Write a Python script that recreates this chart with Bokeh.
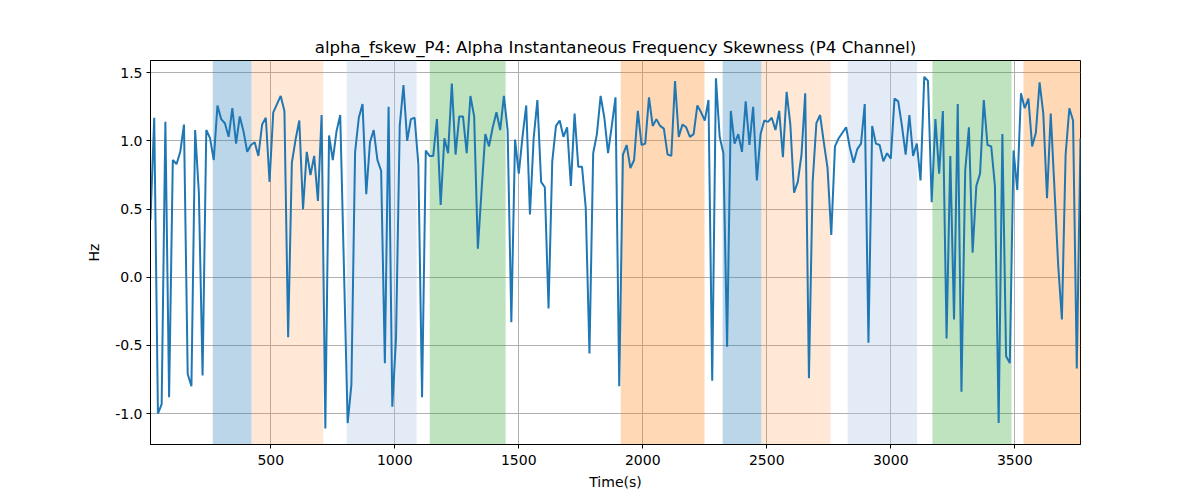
from bokeh.plotting import figure
from bokeh.models import BoxAnnotation, FixedTicker, PrintfTickFormatter, Range1d
from bokeh.embed import file_html
from bokeh.resources import INLINE

# signal: one sample every 15 s
t_start = 15
t_step = 15
fskew = [0.42, 1.17, -1.00, -0.93, 1.14, -0.88, 0.86, 0.83, 0.92, 1.12,
         -0.71, -0.80, 1.08, 0.62, -0.72, 1.08, 1.02, 0.86, 1.26, 1.16,
         1.13, 1.03, 1.24, 0.98, 1.18, 1.07, 0.92, 0.97, 0.99, 0.89,
         1.12, 1.17, 0.70, 1.21, 1.27, 1.33, 1.22, -0.44, 0.84, 1.01,
         1.15, 0.50, 0.92, 0.75, 0.89, 0.56, 1.19, -1.11, 1.04, 0.86,
         1.07, 1.19, 0.07, -1.07, -0.79, 0.92, 1.17, 1.27, 0.61, 0.99,
         1.08, 0.86, 0.78, -0.63, 1.25, -0.95, -0.45, 1.11, 1.41, 1.00,
         1.16, 1.17, 0.83, -0.88, 0.93, 0.89, 0.89, 1.16, 0.53, 1.02,
         0.91, 1.42, 0.90, 1.18, 1.18, 0.91, 1.33, 1.18, 0.21, 0.64,
         1.05, 0.96, 1.10, 1.21, 1.08, 1.33, 1.08, -0.33, 1.01, 0.76,
         1.03, 1.26, 0.46, 1.02, 1.30, 0.70, 0.66, -0.23, 0.85, 1.11,
         1.15, 1.03, 1.10, 0.67, 1.20, 0.81, 0.81, 0.51, -0.56, 0.91,
         1.05, 1.33, 1.17, 0.91, 1.11, 1.32, -0.80, 0.90, 0.97, 0.80,
         0.86, 1.22, 0.97, 0.98, 1.32, 1.11, 1.16, 1.11, 1.09, 0.90,
         0.89, 1.44, 1.03, 1.12, 1.10, 1.03, 1.05, 1.26, 1.21, 1.15,
         1.30, -0.76, 1.46, 1.03, 0.91, -0.51, 1.22, 0.98, 1.05, 0.92,
         1.29, 0.97, 1.25, 0.71, 1.05, 1.15, 1.14, 1.17, 1.08, 1.22,
         0.88, 1.36, 1.12, 0.62, 0.70, 0.90, 1.35, -0.74, 0.70, 1.13,
         1.19, 0.99, 0.80, 0.31, 0.96, 1.02, 1.06, 1.10, 0.95, 0.84,
         0.94, 0.98, 1.27, -0.48, 1.11, 0.98, 0.97, 0.85, 0.91, 0.87,
         1.31, 1.29, 1.11, 0.90, 1.19, 0.89, 0.98, 0.71, 1.47, 1.44,
         0.55, 1.16, 0.76, 1.22, -0.45, 0.89, -0.31, 1.27, -0.84, 0.78,
         1.10, 0.18, 0.67, 0.76, 1.30, 0.97, 0.96, 0.67, -1.07, 1.05,
         -0.58, -0.63, 0.93, 0.64, 1.35, 1.24, 1.31, 0.96, 1.06, 1.43,
         1.20, 0.58, 1.20, 0.65, 0.09, -0.31, 0.90, 1.24, 1.15, -0.67,
         1.02]
times = [t_start + t_step * i for i in range(len(fskew))]

# shaded segments
band_start = [266, 422, 806, 1141, 1911, 2322, 2478, 2826, 3168, 3535]
band_end = [422, 712, 1088, 1447, 2249, 2478, 2757, 3106, 3487, 3765]
band_color = ["#1f77b4", "#ff7f0e", "#aec7e8", "#2ca02c", "#ff7f0e",
              "#1f77b4", "#ff7f0e", "#aec7e8", "#2ca02c", "#ff7f0e"]
band_alpha = [0.3, 0.17, 0.35, 0.3, 0.3, 0.3, 0.17, 0.35, 0.3, 0.3]

x_ticks = [500, 1000, 1500, 2000, 2500, 3000, 3500]
y_ticks = [-1.0, -0.5, 0.0, 0.5, 1.0, 1.5]

FONT = "DejaVu Sans"

p = figure(width=1184, height=492, output_backend="svg", toolbar_location=None,
           title="alpha_fskew_P4: Alpha Instantaneous Frequency Skewness (P4 Channel)",
           x_range=Range1d(times[0], times[-1]), y_range=Range1d(-1.227, 1.59),
           min_border_left=150, min_border_right=104, min_border_top=60, min_border_bottom=48)

for s, e, c, a in zip(band_start, band_end, band_color, band_alpha):
    p.add_layout(BoxAnnotation(left=s, right=e, fill_color=c, fill_alpha=a,
                               line_alpha=0, level="underlay"))

p.line(times, fskew, line_color="#1f77b4", line_width=2)

p.title.align = "center"
p.title.text_font = FONT
p.title.text_font_size = "16.6px"
p.title.text_font_style = "normal"
p.title.text_color = "black"
p.title.standoff = 8

p.xaxis.axis_label = "Time(s)"
p.yaxis.axis_label = "Hz"
p.xaxis.ticker = FixedTicker(ticks=x_ticks)
p.yaxis.ticker = FixedTicker(ticks=y_ticks)
p.yaxis.formatter = PrintfTickFormatter(format="%.1f")
for ax in [p.xaxis, p.yaxis]:
    ax.axis_label_text_font = FONT
    ax.axis_label_text_font_size = "14px"
    ax.axis_label_text_font_style = "normal"
    ax.axis_label_text_color = "black"
    ax.major_label_text_font = FONT
    ax.major_label_text_font_size = "14px"
    ax.major_label_text_color = "black"
    ax.major_tick_out = 4
    ax.major_tick_in = 0
    ax.minor_tick_out = 0
    ax.minor_tick_in = 0
    ax.axis_line_color = "black"
    ax.major_tick_line_color = "black"
p.xaxis.major_label_standoff = 6
p.yaxis.major_label_standoff = 4
p.xaxis.axis_label_standoff = 6
p.yaxis.axis_label_standoff = 10

p.grid.grid_line_color = "#b0b0b0"
p.grid.grid_line_width = 1
p.outline_line_color = "black"
p.outline_line_alpha = 1
p.outline_line_width = 1

open("out.html", "w").write(file_html(p, INLINE))
